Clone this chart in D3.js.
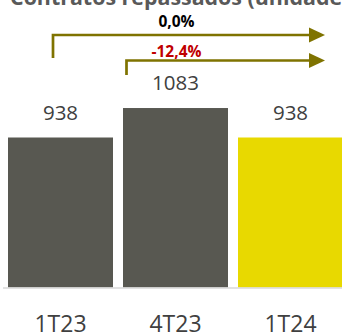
<!DOCTYPE html>
<html>
<head>
<meta charset="utf-8">
<script src="https://cdn.jsdelivr.net/npm/d3@7"></script>
<style>
  html, body { margin: 0; padding: 0; background: #fff; }
  svg { display: block; }
</style>
</head>
<body>
<svg id="chart" width="342" height="334"></svg>
<script>
// Contratos repassados (unidades)
const categories = ["1T23", "4T23", "1T24"];
const values = [938, 1083, 938];
const variationLabels = ["0,0%", "-12,4%"];
const title = "Contratos repassados (unidades)";

const W = 342, H = 334;
const svg = d3.select("#chart");

const x = d3.scaleBand()
  .domain(categories)
  .range([3, 348])
  .paddingInner(10 / 115)
  .paddingOuter(0.0435);

const y = d3.scaleLinear()
  .domain([200, 938])
  .range([287.5, 137.5]);

const barColors = ["#585851", "#585851", "#E8D900"];
const font = "'Open Sans', 'Noto Sans', sans-serif";

// title (partially above the visible area)
svg.append("text")
  .attr("x", 10)
  .attr("y", 5)
  .attr("font-family", font)
  .attr("font-weight", 700)
  .attr("font-size", 21.4)
  .attr("fill", "#595959")
  .text(title);

// bars
svg.append("g").selectAll("rect")
  .data(values)
  .join("rect")
  .attr("x", (d, i) => x(categories[i]))
  .attr("width", x.bandwidth())
  .attr("y", d => y(d))
  .attr("height", d => y(200) - y(d))
  .attr("fill", (d, i) => barColors[i]);

// baseline
svg.append("line")
  .attr("x1", 3).attr("x2", W)
  .attr("y1", y(200) + 0.5).attr("y2", y(200) + 0.5)
  .attr("stroke", "#d9d9d9")
  .attr("stroke-width", 1.5);

// value labels
svg.append("g").selectAll("text")
  .data(values)
  .join("text")
  .attr("x", (d, i) => x(categories[i]) + x.bandwidth() / 2)
  .attr("y", d => y(d) - 18)
  .attr("text-anchor", "middle")
  .attr("font-family", font)
  .attr("font-size", 20.5)
  .attr("fill", "#404040")
  .text(d => d);

// category axis
const xAxis = svg.append("g")
  .attr("transform", `translate(0,${y(200)})`)
  .call(d3.axisBottom(x).tickSize(0).tickPadding(0));
xAxis.select(".domain").remove();
xAxis.selectAll("text")
  .attr("dy", null)
  .attr("y", 44)
  .attr("font-family", font)
  .attr("font-size", 23)
  .attr("fill", "#404040");

// variation arrows
const arrowColor = "#7F7300";
const arrows = [
  { from: 0, dx: -7.5, yBottom: 58, yTop: 35, label: variationLabels[0], color: "#000000", labelY: 26.7 },
  { from: 1, dx: -49, yBottom: 75, yTop: 60.5, label: variationLabels[1], color: "#C00000", labelY: 56.7 }
];
const tipX = 325;
const aG = svg.append("g");
arrows.forEach(a => {
  const x0 = x(categories[a.from]) + x.bandwidth() / 2 + a.dx;
  aG.append("path")
    .attr("d", `M${x0},${a.yBottom}V${a.yTop}H${tipX - 14}`)
    .attr("fill", "none")
    .attr("stroke", arrowColor)
    .attr("stroke-width", 2.7);
  aG.append("path")
    .attr("d", `M${tipX - 16},${a.yTop - 7.5}L${tipX},${a.yTop}L${tipX - 16},${a.yTop + 7.5}Z`)
    .attr("fill", arrowColor);
  aG.append("text")
    .attr("x", x(categories[1]) + x.bandwidth() / 2 + 1)
    .attr("y", a.labelY)
    .attr("text-anchor", "middle")
    .attr("font-family", font)
    .attr("font-weight", 700)
    .attr("font-size", 15.5)
    .attr("fill", a.color)
    .text(a.label);
});
</script>
</body>
</html>
